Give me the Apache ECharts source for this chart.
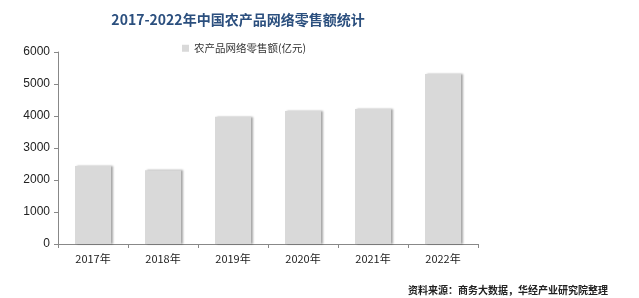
<!DOCTYPE html>
<html><head><meta charset="utf-8">
<script src="https://cdn.jsdelivr.net/npm/echarts@6/dist/echarts.min.js"></script>
<style>html,body{margin:0;padding:0;background:#fff}#c{width:639px;height:298px}</style>
</head><body><div id="c"></div>
<script>
const categories = ['2017年','2018年','2019年','2020年','2021年','2022年'];
const values = [2436, 2305, 3975, 4158, 4221, 5313];
const seriesName = '农产品网络零售额(亿元)';
const titleText = '2017-2022年中国农产品网络零售额统计';
const sourceText = '资料来源：商务大数据，华经产业研究院整理';

const chart = echarts.init(document.getElementById('c'));
chart.setOption({
  animation: false,
  title: {
    text: titleText, left: 233, top: 8, textAlign: 'center',
    textStyle: {fontFamily: 'Noto Sans CJK SC', fontSize: 14, fontWeight: 'bold', color: '#2b4f7e'}
  },
  legend: {
    data: [seriesName], left: 177, top: 38, itemWidth: 7, itemHeight: 7, itemGap: 4,
    icon: 'rect',
    textStyle: {fontFamily: 'Noto Sans CJK SC', fontSize: 10.5, color: '#333'}
  },
  grid: {left: 58, right: 161, top: 52, bottom: 54},
  xAxis: {
    type: 'category', data: categories,
    axisLine: {lineStyle: {color: '#888'}},
    axisTick: {show: true, length: 4, lineStyle: {color: '#888'}},
    axisLabel: {fontFamily: 'Noto Sans CJK SC', fontSize: 11, color: '#222', margin: 9}
  },
  yAxis: {
    type: 'value', min: 0, max: 6000, interval: 1000,
    splitLine: {show: false},
    axisLine: {show: true, lineStyle: {color: '#888'}},
    axisTick: {show: true, length: 4, lineStyle: {color: '#888'}},
    axisLabel: {fontFamily: 'Liberation Sans', fontSize: 12, color: '#222', margin: 8,
      formatter: v => String(v)}
  },
  series: [{
    name: seriesName, type: 'bar', data: values, barWidth: 36,
    itemStyle: {color: '#d9d9d9', shadowColor: 'rgba(0,0,0,0.35)', shadowOffsetX: 2, shadowBlur: 2}
  }],
  graphic: [{
    type: 'text', left: 408, top: 285,
    style: {text: sourceText, font: 'bold 10px "Noto Sans CJK SC"', fill: '#222'}
  }]
});
</script></body></html>
